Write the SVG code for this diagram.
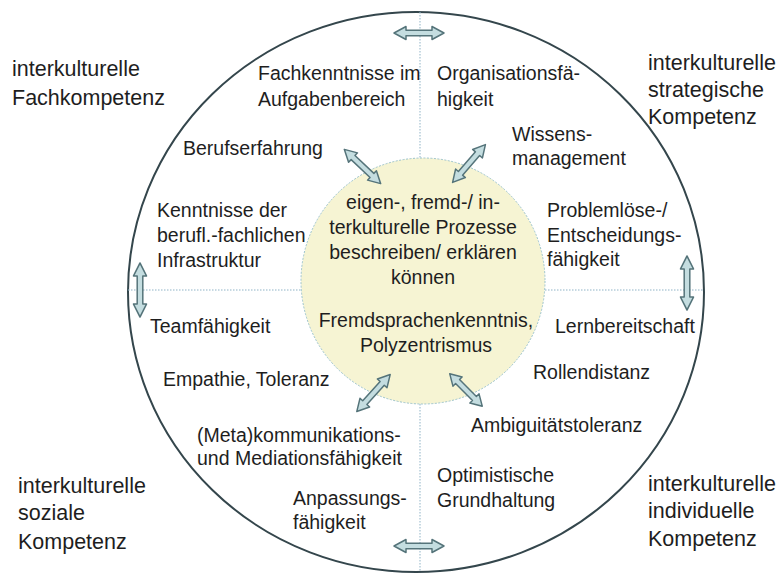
<svg xmlns="http://www.w3.org/2000/svg" width="779" height="575" viewBox="0 0 779 575">
<style>
text{font-family:"Liberation Sans",Arial,sans-serif;fill:#1e1e1e}
.in{font-size:19.5px}
.cor{font-size:21.5px}
.mid{text-anchor:middle}
.guide{stroke:#8fb3c6;stroke-width:1;stroke-dasharray:1.5 1.5;fill:none}
.arr{fill:#c4dde0;stroke:#55747a;stroke-width:1.5;stroke-linejoin:round}
</style>
<defs>
<path id="dbl" d="M -25 0 L -13 -6.5 L -13 -2.8 L 13 -2.8 L 13 -6.5 L 25 0 L 13 6.5 L 13 2.8 L -13 2.8 L -13 6.5 Z"/>
</defs>
<rect width="779" height="575" fill="#ffffff"/>
<g id="outer-ring">
<ellipse cx="416" cy="292" rx="288" ry="280" fill="none" stroke="#34464c" stroke-width="2"/>
</g>
<g id="guides">
<line class="guide" x1="420" y1="12" x2="420" y2="158"/>
<line class="guide" x1="420" y1="404" x2="420" y2="572"/>
<line class="guide" x1="128" y1="290" x2="302" y2="290"/>
<line class="guide" x1="545" y1="290" x2="704" y2="290"/>
</g>
<g id="core">
<ellipse cx="423" cy="281" rx="122" ry="123" fill="#f6f4d3" stroke="#9cc3cc" stroke-width="1" stroke-dasharray="2 1.5"/>
<text class="in mid" x="423" y="209">eigen-, fremd-/ in-</text>
<text class="in mid" x="423" y="234">terkulturelle Prozesse</text>
<text class="in mid" x="423" y="259">beschreiben/ erklären</text>
<text class="in mid" x="423" y="284">können</text>
<text class="in mid" x="426" y="327">Fremdsprachenkenntnis,</text>
<text class="in mid" x="426" y="352">Polyzentrismus</text>
</g>
<g id="connectors">
<use href="#dbl" class="arr" transform="translate(419 33)"/>
<use href="#dbl" class="arr" transform="translate(419 546)"/>
<use href="#dbl" class="arr" transform="translate(140 290) rotate(90) scale(1.08 1)"/>
<use href="#dbl" class="arr" transform="translate(687 283) rotate(90) scale(1.08 1)"/>
<use href="#dbl" class="arr" transform="translate(362.5 166.5) rotate(43.3)"/>
<use href="#dbl" class="arr" transform="translate(469 163.5) rotate(-49)"/>
<use href="#dbl" class="arr" transform="translate(373.5 393) rotate(-48)"/>
<use href="#dbl" class="arr" transform="translate(466 390) rotate(45) scale(0.92 1)"/>
</g>
<g id="fachkompetenz">
<text class="cor" x="12" y="76">interkulturelle</text>
<text class="cor" x="12" y="105">Fachkompetenz</text>
</g>
<g id="strategische-kompetenz">
<text class="cor" x="648" y="70">interkulturelle</text>
<text class="cor" x="648" y="97">strategische</text>
<text class="cor" x="648" y="124">Kompetenz</text>
</g>
<g id="soziale-kompetenz">
<text class="cor" x="18" y="493">interkulturelle</text>
<text class="cor" x="18" y="520">soziale</text>
<text class="cor" x="18" y="549">Kompetenz</text>
</g>
<g id="individuelle-kompetenz">
<text class="cor" x="648" y="491">interkulturelle</text>
<text class="cor" x="648" y="518">individuelle</text>
<text class="cor" x="648" y="546">Kompetenz</text>
</g>
<g id="fachkenntnisse"><text class="in" x="258" y="80">Fachkenntnisse im</text><text class="in" x="258" y="106">Aufgabenbereich</text></g>
<g id="organisation"><text class="in" x="437" y="80">Organisationsfä-</text><text class="in" x="437" y="106">higkeit</text></g>
<g id="wissen"><text class="in" x="512" y="141">Wissens-</text><text class="in" x="512" y="165">management</text></g>
<g id="beruf"><text class="in" x="183" y="155">Berufserfahrung</text></g>
<g id="infrastruktur"><text class="in" x="157" y="217">Kenntnisse der</text><text class="in" x="157" y="242">berufl.-fachlichen</text><text class="in" x="157" y="267">Infrastruktur</text></g>
<g id="problem"><text class="in" x="547" y="217">Problemlöse-/</text><text class="in" x="547" y="242">Entscheidungs-</text><text class="in" x="547" y="266">fähigkeit</text></g>
<g id="team"><text class="in" x="150" y="333">Teamfähigkeit</text></g>
<g id="lern"><text class="in" x="555" y="333">Lernbereitschaft</text></g>
<g id="empathie"><text class="in" x="163" y="386">Empathie, Toleranz</text></g>
<g id="rollen"><text class="in" x="533" y="379">Rollendistanz</text></g>
<g id="ambiguitaet"><text class="in" x="471" y="432">Ambiguitätstoleranz</text></g>
<g id="kommunikation"><text class="in" x="197" y="442">(Meta)kommunikations-</text><text class="in" x="197" y="465">und Mediationsfähigkeit</text></g>
<g id="optimismus"><text class="in" x="437" y="482">Optimistische</text><text class="in" x="437" y="507">Grundhaltung</text></g>
<g id="anpassung"><text class="in" x="293" y="505">Anpassungs-</text><text class="in" x="293" y="529">fähigkeit</text></g>
</svg>
